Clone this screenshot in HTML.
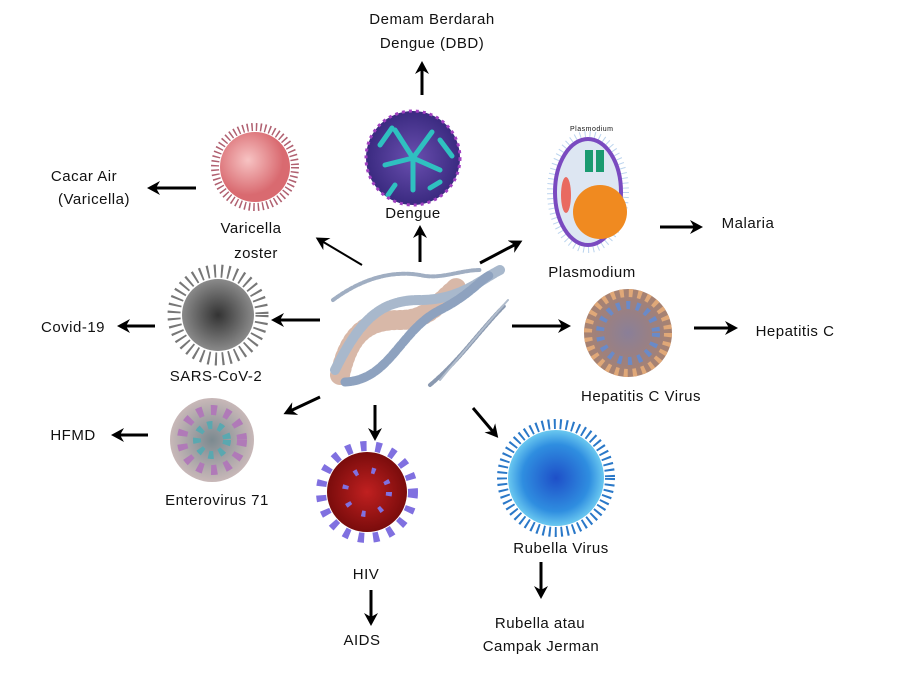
<!DOCTYPE html>
<html><head><meta charset="utf-8"><style>
html,body{margin:0;padding:0;background:#fff;width:899px;height:689px;overflow:hidden}
svg text{font-family:"Liberation Sans",sans-serif;font-size:15px;fill:#111;letter-spacing:0.5px}
</style></head><body>
<svg width="899" height="689" viewBox="0 0 899 689" xmlns="http://www.w3.org/2000/svg">
<defs>
<marker id="ah" markerWidth="14" markerHeight="14" refX="8" refY="7" orient="auto" markerUnits="userSpaceOnUse">
<path d="M0,0 L13,7 L0,14 L4,7 Z" fill="#000"/></marker>
<radialGradient id="gv" cx="40%" cy="40%"><stop offset="0" stop-color="#f7c3c3"/><stop offset="1" stop-color="#d96a70"/></radialGradient>
<radialGradient id="gd" cx="50%" cy="50%"><stop offset="0" stop-color="#6a4fb0"/><stop offset="1" stop-color="#3a2a80"/></radialGradient>
<radialGradient id="gs" cx="50%" cy="50%"><stop offset="0" stop-color="#333"/><stop offset="1" stop-color="#8a8a8a"/></radialGradient>
<radialGradient id="gh" cx="50%" cy="50%"><stop offset="0" stop-color="#8a7f98"/><stop offset="1" stop-color="#a88270"/></radialGradient>
<radialGradient id="ge" cx="50%" cy="50%"><stop offset="0" stop-color="#7c8a90"/><stop offset="1" stop-color="#c8b8b8"/></radialGradient>
<radialGradient id="gi" cx="50%" cy="50%"><stop offset="0" stop-color="#c02020"/><stop offset="1" stop-color="#7a0c0c"/></radialGradient>
<radialGradient id="gr" cx="50%" cy="50%"><stop offset="0" stop-color="#1e4fc8"/><stop offset="0.7" stop-color="#2f8ee0"/><stop offset="1" stop-color="#6ac8f0"/></radialGradient>
</defs>

<circle cx="255" cy="167" r="40" fill="none" stroke="#b06070" stroke-width="8" stroke-dasharray="1.5 3"/>
<circle cx="255" cy="167" r="35" fill="url(#gv)"/>
<circle cx="413" cy="158" r="47" fill="url(#gd)"/>
<g stroke="#2fc0c0" stroke-width="5" stroke-linecap="round" fill="none">
<path d="M395,130 L413,158 L432,132 M413,158 L413,190 M413,158 L385,165 M413,158 L440,170 M380,145 L392,128 M440,140 L452,156 M395,185 L388,195 M430,188 L440,182"/>
</g>
<circle cx="413" cy="158" r="47" fill="none" stroke="#a040c0" stroke-width="3" stroke-dasharray="3 4"/>
<text x="570" y="131" style="font-size:7px">Plasmodium</text>
<ellipse cx="588" cy="192" rx="38" ry="58" fill="none" stroke="#bcd4ee" stroke-width="6" stroke-dasharray="1 4"/>
<ellipse cx="588" cy="192" rx="33" ry="53" fill="#dde6f2" stroke="#7a4ac0" stroke-width="4"/>
<rect x="585" y="150" width="8" height="22" fill="#1a9a70"/><rect x="596" y="150" width="8" height="22" fill="#1a9a70"/>
<circle cx="600" cy="212" r="27" fill="#f08a20"/>
<ellipse cx="566" cy="195" rx="5" ry="18" fill="#e96a60"/>
<circle cx="218" cy="315" r="44" fill="none" stroke="#777" stroke-width="13" stroke-dasharray="2 5"/>
<circle cx="218" cy="315" r="36" fill="url(#gs)"/>
<circle cx="628" cy="333" r="44" fill="url(#gh)"/>
<circle cx="628" cy="333" r="40" fill="none" stroke="#e0a878" stroke-width="8" stroke-dasharray="4 5"/>
<circle cx="628" cy="333" r="28" fill="none" stroke="#6a8ac8" stroke-width="8" stroke-dasharray="4 6"/>
<circle cx="212" cy="440" r="42" fill="url(#ge)"/>
<circle cx="212" cy="440" r="30" fill="none" stroke="#b07ab8" stroke-width="10" stroke-dasharray="6 8"/>
<circle cx="212" cy="440" r="15" fill="none" stroke="#5aa8b0" stroke-width="8" stroke-dasharray="5 6"/>
<circle cx="367" cy="492" r="46" fill="none" stroke="#8070e0" stroke-width="10" stroke-dasharray="6 9"/>
<circle cx="367" cy="492" r="40" fill="url(#gi)"/>
<circle cx="367" cy="492" r="22" fill="none" stroke="#8070e0" stroke-width="6" stroke-dasharray="4 14"/>
<circle cx="556" cy="478" r="54" fill="none" stroke="#2a78c8" stroke-width="10" stroke-dasharray="2 4"/>
<circle cx="556" cy="478" r="48" fill="url(#gr)"/>

<!-- DNA -->
<g fill="none" stroke-linecap="round">
<path d="M340,375 C350,330 370,320 400,320 C430,320 440,300 460,285" stroke="#d8b8a8" stroke-width="20" stroke-dasharray="1 5"/>
<path d="M335,370 C360,320 380,300 420,300 C460,300 480,280 500,270" stroke="#a8b8cc" stroke-width="10" stroke-dasharray="6 2"/>
<path d="M345,382 C390,380 400,330 440,310 C470,295 480,280 490,275" stroke="#8ea2bf" stroke-width="9" stroke-dasharray="6 2"/>
<path d="M333,300 C360,280 390,270 420,275 C440,280 460,270 480,270" stroke="#a0aec2" stroke-width="4" stroke-dasharray="3 2"/>
<path d="M430,385 C460,360 480,330 505,305" stroke="#8a99b0" stroke-width="4" stroke-dasharray="3 2"/>
<path d="M440,380 C465,350 490,320 508,300" stroke="#b0bccc" stroke-width="2"/>
</g>

<g stroke="#000" stroke-width="3" fill="none" marker-end="url(#ah)">
<line x1="422" y1="95" x2="422" y2="66"/>
<line x1="196" y1="188" x2="152" y2="188"/>
<line x1="362" y1="265" x2="320" y2="240" stroke-width="2"/>
<line x1="420" y1="262" x2="420" y2="230"/>
<line x1="480" y1="263" x2="518" y2="243"/>
<line x1="660" y1="227" x2="698" y2="227"/>
<line x1="320" y1="320" x2="276" y2="320"/>
<line x1="155" y1="326" x2="122" y2="326"/>
<line x1="512" y1="326" x2="566" y2="326"/>
<line x1="694" y1="328" x2="733" y2="328"/>
<line x1="320" y1="397" x2="288" y2="412"/>
<line x1="148" y1="435" x2="116" y2="435"/>
<line x1="375" y1="405" x2="375" y2="436"/>
<line x1="473" y1="408" x2="495" y2="434"/>
<line x1="541" y1="562" x2="541" y2="594"/>
<line x1="371" y1="590" x2="371" y2="621"/>
</g>

<g text-anchor="middle">
<text x="432" y="24">Demam Berdarah</text>
<text x="432" y="48">Dengue (DBD)</text>
<text x="84" y="181">Cacar Air</text>
<text x="94" y="204">(Varicella)</text>
<text x="251" y="233">Varicella</text>
<text x="256" y="258">zoster</text>
<text x="413" y="218">Dengue</text>
<text x="748" y="228">Malaria</text>
<text x="592" y="277">Plasmodium</text>
<text x="73" y="332">Covid-19</text>
<text x="216" y="381">SARS-CoV-2</text>
<text x="795" y="336">Hepatitis C</text>
<text x="641" y="401">Hepatitis C Virus</text>
<text x="73" y="440">HFMD</text>
<text x="217" y="505">Enterovirus 71</text>
<text x="366" y="579">HIV</text>
<text x="362" y="645">AIDS</text>
<text x="561" y="553">Rubella Virus</text>
<text x="540" y="628">Rubella atau</text>
<text x="541" y="651">Campak Jerman</text>
</g>
</svg>
</body></html>
